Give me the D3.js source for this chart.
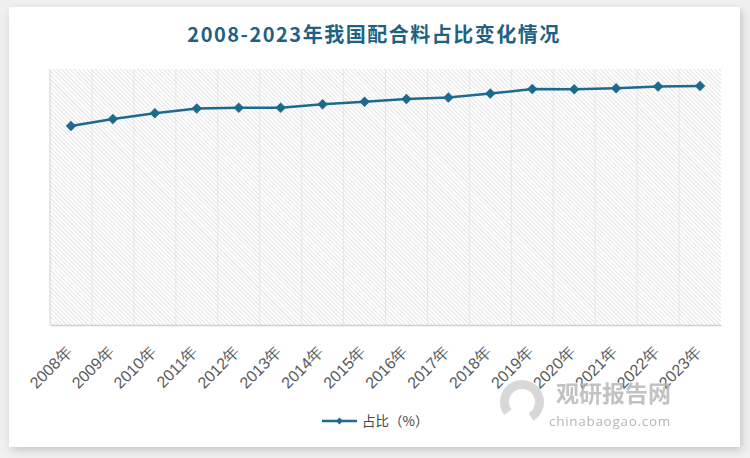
<!DOCTYPE html>
<html>
<head>
<meta charset="utf-8">
<script src="https://cdn.jsdelivr.net/npm/d3@7"></script>
<style>
  body { margin: 0; background: #f0f0f0; }
  svg { display: block; font-family: "Noto Sans CJK SC", "Open Sans", sans-serif; }
</style>
</head>
<body>
<svg id="chart" width="750" height="458"></svg>
<script>
// data (y axis is hidden, 0-100 assumed)
const years = ["2008年", "2009年", "2010年", "2011年", "2012年", "2013年", "2014年", "2015年",
               "2016年", "2017年", "2018年", "2019年", "2020年", "2021年", "2022年", "2023年"];
const share = [77.7, 80.5, 82.7, 84.6, 84.9, 84.9, 86.2, 87.2, 88.3, 88.9, 90.4, 92.2, 92.1, 92.5, 93.2, 93.4];
const seriesName = "占比（%）";

const svg = d3.select("#chart");
const lineColor = "#1c6a8d";

// card with soft shadow
const defs = svg.append("defs");
const shadow = defs.append("filter").attr("id", "shadow")
    .attr("x", "-5%").attr("y", "-5%").attr("width", "110%").attr("height", "110%");
shadow.append("feDropShadow").attr("dx", 2).attr("dy", 3).attr("stdDeviation", 4)
    .attr("flood-color", "#000").attr("flood-opacity", 0.18);

// diagonal hatch, running top-left to bottom-right
const hatch = defs.append("pattern").attr("id", "hatch")
    .attr("patternUnits", "userSpaceOnUse").attr("width", 3).attr("height", 3)
    .attr("patternTransform", "rotate(-45)");
hatch.append("rect").attr("width", 3).attr("height", 3).attr("fill", "#fff");
hatch.append("line").attr("x1", 0).attr("y1", 0).attr("x2", 0).attr("y2", 3)
    .attr("stroke", "#d6d6d6").attr("stroke-width", 1.3);

svg.append("rect").attr("x", 9).attr("y", 7).attr("width", 731).attr("height", 440)
    .attr("fill", "#fff").attr("filter", "url(#shadow)");

// title
svg.append("text").attr("x", 374).attr("y", 42)
    .attr("text-anchor", "middle")
    .attr("font-size", 20).attr("font-weight", "bold")
    .attr("letter-spacing", 1.5)
    .attr("fill", "#1f6183")
    .text("2008-2023年我国配合料占比变化情况");

const margin = { left: 50, right: 721, top: 69, bottom: 325 };

const x = d3.scaleBand().domain(years).range([margin.left, margin.right]);
const y = d3.scaleLinear().domain([0, 100]).range([margin.bottom, margin.top]);

// plot area
svg.append("rect").attr("x", margin.left).attr("y", margin.top)
    .attr("width", margin.right - margin.left).attr("height", margin.bottom - margin.top)
    .attr("fill", "url(#hatch)");

// vertical gridlines at category boundaries
svg.append("g").selectAll("line")
    .data(years.slice(1))
    .join("line")
    .attr("x1", d => x(d)).attr("x2", d => x(d))
    .attr("y1", margin.top).attr("y2", margin.bottom)
    .attr("stroke", "#e6e6e6").attr("stroke-width", 1);

// axis lines
svg.append("line").attr("x1", margin.left).attr("x2", margin.left)
    .attr("y1", margin.top).attr("y2", margin.bottom)
    .attr("stroke", "#d0d0d0");

const xAxis = svg.append("g")
    .attr("transform", `translate(0,${margin.bottom})`)
    .call(d3.axisBottom(x).tickSize(0).tickPadding(0));
xAxis.select(".domain").attr("stroke", "#d0d0d0").attr("stroke-width", 1.5);
xAxis.selectAll(".tick text")
    .attr("font-size", 16)
    .attr("fill", "#595959")
    .attr("text-anchor", "end")
    .attr("y", 0).attr("dy", 0)
    .attr("transform", "translate(2,28) rotate(-45)");

// line
const line = d3.line()
    .x((d, i) => x(years[i]) + x.bandwidth() / 2)
    .y(d => y(d));

svg.append("path").datum(share)
    .attr("d", line)
    .attr("fill", "none")
    .attr("stroke", lineColor)
    .attr("stroke-width", 2.5);

svg.append("g").selectAll("path")
    .data(share)
    .join("path")
    .attr("d", d3.symbol(d3.symbolDiamond2, 70))
    .attr("transform", (d, i) => `translate(${x(years[i]) + x.bandwidth() / 2},${y(d)})`)
    .attr("fill", lineColor);

// watermark
const wm = svg.append("g").attr("opacity", 0.8);
wm.append("path")
    .attr("d", d3.arc()({ innerRadius: 13, outerRadius: 22, startAngle: -2.2, endAngle: 2.6 }))
    .attr("transform", "translate(522,402)")
    .attr("fill", "#cfcfcf");
wm.append("text").attr("x", 556).attr("y", 402)
    .attr("font-size", 23).attr("font-weight", "bold").attr("fill", "#b3b3b3")
    .text("观研报告网");
wm.append("text").attr("x", 549).attr("y", 426)
    .attr("font-size", 13.5).attr("fill", "#a3a3a3").attr("font-family", "Open Sans")
    .attr("letter-spacing", 0.7)
    .text("chinabaogao.com");

// legend
const legend = svg.append("g").attr("transform", "translate(322,421)");
legend.append("line").attr("x1", 0).attr("x2", 35).attr("y1", 0).attr("y2", 0)
    .attr("stroke", lineColor).attr("stroke-width", 2.5);
legend.append("path").attr("d", d3.symbol(d3.symbolDiamond2, 30))
    .attr("transform", "translate(17.5,0)").attr("fill", lineColor);
legend.append("text").attr("x", 40).attr("y", 5)
    .attr("font-size", 13.5).attr("fill", "#444")
    .text(seriesName);
</script>
</body>
</html>
